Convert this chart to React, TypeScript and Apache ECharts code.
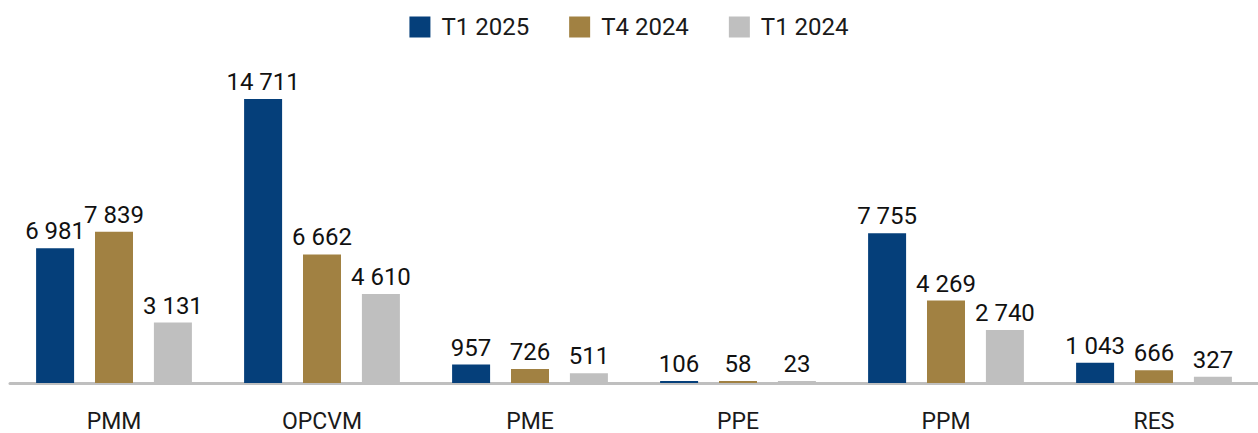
import React, { useEffect, useRef } from "react";
import * as echarts from "echarts";

const categories = ["PMM", "OPCVM", "PME", "PPE", "PPM", "RES"];
const seriesNames = ["T1 2025", "T4 2024", "T1 2024"];
const t1_2025 = [6981, 14711, 957, 106, 7755, 1043];
const t4_2024 = [7839, 6662, 726, 58, 4269, 666];
const t1_2024 = [3131, 4610, 511, 23, 2740, 327];
const colors = ["#053F7A", "#A18142", "#BFBFBF"];

const FONT = "Roboto, 'Noto Sans', sans-serif";

function fmt(v: number): string {
  return String(v).replace(/\B(?=(\d{3})+(?!\d))/g, " ");
}

export default function App() {
  const ref = useRef<HTMLDivElement>(null);
  useEffect(() => {
    if (!ref.current) return;
    const chart = echarts.init(ref.current, undefined, { renderer: "svg" });
    const all = [t1_2025, t4_2024, t1_2024];
    const maxV = Math.max(...all.flat());
    chart.setOption({
      animation: false,
      color: colors,
      legend: {
        top: 10,
        left: "center",
        itemWidth: 21,
        itemHeight: 21,
        itemGap: 40,
        icon: "rect",
        data: seriesNames,
        textStyle: {
          fontFamily: FONT,
          fontSize: 24,
          color: "#1a1a1a",
          padding: [0, 0, 0, 6],
        },
      },
      grid: { left: 10, right: 0, top: 99, bottom: 50, containLabel: false },
      xAxis: {
        type: "category",
        data: categories,
        axisLine: { show: true, lineStyle: { color: "#BFBFBF", width: 3 } },
        axisTick: { show: false },
        axisLabel: {
          fontFamily: FONT,
          fontSize: 23,
          lineHeight: 22,
          color: "#1a1a1a",
          margin: 27,
        },
      },
      yAxis: {
        type: "value",
        min: 0,
        max: maxV,
        show: false,
        splitLine: { show: false },
      },
      series: all.map((d, i) => ({
        name: seriesNames[i],
        type: "bar",
        data: d,
        barWidth: 38,
        barGap: "55%",
        barMinHeight: 2,
        itemStyle: { color: colors[i] },
        label: {
          show: true,
          position: "top",
          distance: 5,
          fontFamily: FONT,
          fontSize: 24,
          fontWeight: "normal",
          color: "#111",
          formatter: (p: any) => fmt(p.value),
        },
      })),
    });
    return () => chart.dispose();
  }, []);
  return (
    <div
      ref={ref}
      style={{ position: "fixed", left: 0, top: 0, width: 1258, height: 433, background: "#fff" }}
    />
  );
}
